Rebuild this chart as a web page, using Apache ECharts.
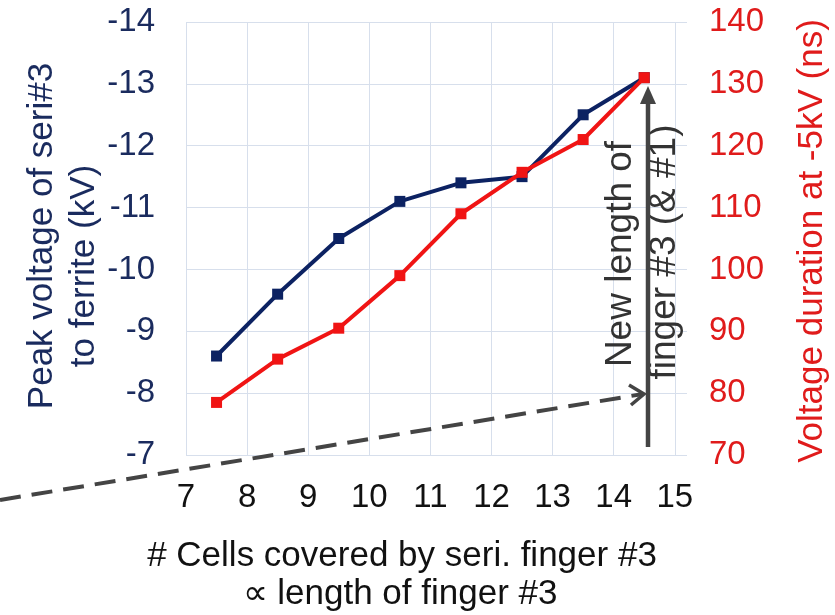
<!DOCTYPE html>
<html>
<head>
<meta charset="utf-8">
<script src="https://cdn.jsdelivr.net/npm/echarts@6/dist/echarts.min.js"></script>
<style>
html,body{margin:0;padding:0;background:#fff;}
#c{width:835px;height:615px;}
</style>
</head>
<body>
<div id="c"></div>
<script>
// ---- data ----
const cellsCovered = [7.5, 8.5, 9.5, 10.5, 11.5, 12.5, 13.5, 14.5];
const peakVoltage = [-8.6, -9.6, -10.5, -11.1, -11.4, -11.5, -12.5, -13.1];
const voltageDuration = [78.5, 85.5, 90.5, 99, 109, 115.7, 121, 131];
const xTitleLines = ['# Cells covered by seri. finger #3', '\u221D length of finger #3'];
const leftTitleLines = ['Peak voltage of seri#3', 'to ferrite (kV)'];
const rightTitle = 'Voltage duration at -5kV (ns)';
const noteLines = ['New length of', 'finger #3 (& #1)'];

const FONT = '"Liberation Sans", Arial, sans-serif';
const NAVY = '#0c2262';
const NAVY_TXT = '#1a2b5e';
const RED = '#f01414';
const RED_TXT = '#e01b1b';
const GRID = '#d7dfec';
const ANN = '#444444';

const chart = echarts.init(document.getElementById('c'));

const option = {
  animation: false,
  backgroundColor: '#ffffff',
  grid: { left: 186, right: 148, top: 22, bottom: 160 },
  xAxis: {
    type: 'value', min: 7, max: 15.2, interval: 1,
    axisLine: { show: false }, axisTick: { show: false },
    axisLabel: {
      fontSize: 33, fontFamily: FONT, color: '#111', margin: 26,
      showMaxLabel: false,
      formatter: v => (Math.abs(v - Math.round(v)) < 1e-9 ? String(Math.round(v)) : '')
    },
    splitLine: { show: true, showMaxLine: false, lineStyle: { color: GRID, width: 1 } }
  },
  yAxis: [
    {
      type: 'value', min: -14, max: -7, interval: 1, inverse: true, position: 'left',
      axisLine: { show: false }, axisTick: { show: false },
      axisLabel: { fontSize: 33, fontFamily: FONT, color: NAVY_TXT, margin: 31 },
      splitLine: { show: true, lineStyle: { color: GRID, width: 1 } }
    },
    {
      type: 'value', min: 70, max: 140, interval: 10, position: 'right',
      axisLine: { show: false }, axisTick: { show: false },
      axisLabel: { fontSize: 33, fontFamily: FONT, color: RED_TXT, margin: 22 },
      splitLine: { show: false }
    }
  ],
  series: [
    {
      type: 'line', yAxisIndex: 0,
      data: cellsCovered.map((x, i) => [x, peakVoltage[i]]),
      symbol: 'rect', symbolSize: 11,
      lineStyle: { color: NAVY, width: 4 },
      itemStyle: { color: NAVY },
      z: 3
    },
    {
      type: 'line', yAxisIndex: 1,
      data: cellsCovered.map((x, i) => [x, voltageDuration[i]]),
      symbol: 'rect', symbolSize: 11,
      lineStyle: { color: RED, width: 4 },
      itemStyle: { color: RED },
      z: 4
    }
  ]
};
chart.setOption(option);

function txt(text, x, y, opts) {
  return Object.assign({
    type: 'text', x: x, y: y, silent: true,
    style: Object.assign({
      text: text, fontFamily: FONT, fontSize: 34, fill: '#111',
      align: 'center', verticalAlign: 'middle'
    }, opts.style || {})
  }, opts.el || {});
}
const R = Math.PI / 2;
const graphics = [
  // x-axis title
  txt(xTitleLines[0], 402, 556, { style: { fontSize: 35 } }),
  txt(xTitleLines[1], 400, 594, { style: { fontSize: 35 } }),
  // left axis title
  txt(leftTitleLines[0], 42, 236, { style: { fontSize: 35, fill: NAVY_TXT }, el: { rotation: R } }),
  txt(leftTitleLines[1], 84, 266, { style: { fontSize: 35, fill: NAVY_TXT }, el: { rotation: R } }),
  // right axis title
  txt(rightTitle, 812, 241, { style: { fontSize: 35, fill: RED_TXT }, el: { rotation: R } }),
  // annotation text
  txt(noteLines[0], 621, 254, { style: { fontSize: 37, fill: '#333' }, el: { rotation: R } }),
  txt(noteLines[1], 665, 252, { style: { fontSize: 37, fill: '#333' }, el: { rotation: R } }),
  // vertical arrow
  { type: 'line', silent: true, shape: { x1: 648, y1: 447, x2: 648, y2: 100 },
    style: { stroke: ANN, lineWidth: 4.5 } },
  { type: 'polygon', silent: true, shape: { points: [[648, 86], [640, 104], [656, 104]] },
    style: { fill: ANN } },
  // dashed line with open arrowhead
  { type: 'line', silent: true, shape: { x1: 0, y1: 500, x2: 643, y2: 394 },
    style: { stroke: ANN, lineWidth: 4, lineDash: [21, 11] } },
  { type: 'polyline', silent: true, shape: { points: [[629, 385], [644, 394], [631, 405]] },
    style: { stroke: ANN, lineWidth: 3.5, fill: null } }
];
chart.setOption({ graphic: graphics });
</script>
</body>
</html>
